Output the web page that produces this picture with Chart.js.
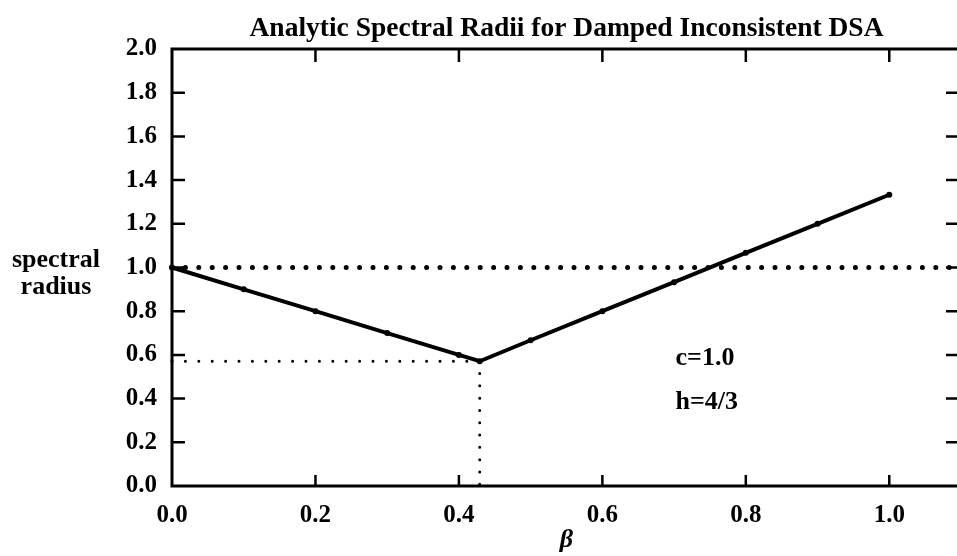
<!DOCTYPE html>
<html><head><meta charset="utf-8">
<script src="https://cdn.jsdelivr.net/npm/chart.js@4.4.1/dist/chart.umd.min.js"></script>
<style>
html,body{margin:0;padding:0;background:#ffffff;overflow:hidden;width:957px;height:556px;}
canvas{display:block;}
</style></head>
<body>
<canvas id="chart" width="965" height="556"></canvas>
<script>
// ---------- data ----------
const betaValues     = [0.0, 0.1, 0.2, 0.3, 0.4, 0.429, 0.5, 0.6, 0.7, 0.8, 0.9, 1.0];
const spectralRadius = [1.0, 0.9, 0.8, 0.7, 0.6, 0.571, 0.667, 0.8, 0.933, 1.067, 1.2, 1.333];
const xTickValues = [0.0, 0.2, 0.4, 0.6, 0.8, 1.0];
const yTickValues = [0.0, 0.2, 0.4, 0.6, 0.8, 1.0, 1.2, 1.4, 1.6, 1.8, 2.0];
const unityLevel = 1.0;
const minBeta = 0.429;
const minRadius = 0.571;
const titleText = 'Analytic Spectral Radii for Damped Inconsistent DSA';
const yAxisLabel = ['spectral', 'radius'];
const xAxisLabel = 'β';
const paramLabels = ['c=1.0', 'h=4/3'];
const xMin = 0.0, xMax = 1.1, yMin = 0.0, yMax = 2.0;

// ---------- styling ----------
const FONT = '"Liberation Serif", "DejaVu Serif", serif';
const INK = '#000000';

const framePlugin = {
  id: 'frame',
  afterDatasetsDraw(chart) {
    const {ctx, chartArea: a, scales: {x, y}} = chart;
    const top = y.getPixelForValue(yMax), bot = y.getPixelForValue(yMin);
    const right = x.getPixelForValue(xMax);
    ctx.save();
    ctx.strokeStyle = INK;
    ctx.lineCap = 'butt';
    ctx.lineWidth = 3;
    ctx.beginPath();
    ctx.moveTo(a.left - 1.5, top); ctx.lineTo(right, top);
    ctx.moveTo(a.left, top - 1.5); ctx.lineTo(a.left, bot + 1.5);
    ctx.moveTo(a.left - 1.5, bot); ctx.lineTo(right, bot);
    ctx.stroke();
    ctx.lineWidth = 2.5;
    ctx.beginPath();
    yTickValues.forEach(v => {
      if (v === yMin || v === yMax) return;
      const py = y.getPixelForValue(v);
      ctx.moveTo(a.left, py); ctx.lineTo(a.left + 13, py);
      ctx.moveTo(right, py); ctx.lineTo(right - 15, py);
    });
    xTickValues.forEach(v => {
      if (v === xMin) return;
      const px = x.getPixelForValue(v);
      ctx.moveTo(px, bot); ctx.lineTo(px, bot - 11);
      ctx.moveTo(px, top); ctx.lineTo(px, top + 13);
    });
    ctx.stroke();
    ctx.restore();
  },
  afterDraw(chart) {
    const {ctx, scales: {x, y}} = chart;
    ctx.save();
    ctx.fillStyle = INK;
    ctx.font = 'bold 26px ' + FONT;
    ctx.textBaseline = 'alphabetic';
    ctx.textAlign = 'center';
    const y1 = y.getPixelForValue(unityLevel);
    ctx.fillText(yAxisLabel[0], 56, y1 - 1);
    ctx.fillText(yAxisLabel[1], 56, y1 + 26);
    ctx.textAlign = 'left';
    ctx.fillText(paramLabels[0], x.getPixelForValue(0.702), y.getPixelForValue(0.554));
    ctx.fillText(paramLabels[1], x.getPixelForValue(0.702), y.getPixelForValue(0.352));
    ctx.restore();
  }
};

const dotted = (w, gap) => ({
  borderColor: INK, borderWidth: w, borderDash: [0, gap], borderCapStyle: 'round',
  pointRadius: 0, showLine: true, fill: false, order: 2, clip: false
});

new Chart(document.getElementById('chart'), {
  type: 'scatter',
  data: {
    datasets: [
      {
        data: betaValues.map((b, i) => ({x: b, y: spectralRadius[i]})),
        showLine: true, borderColor: INK, borderWidth: 4, tension: 0,
        pointRadius: 3, pointBackgroundColor: INK, pointBorderColor: INK, pointBorderWidth: 0,
        order: 0, clip: false
      },
      Object.assign({data: [{x: xMin, y: unityLevel}, {x: xMax, y: unityLevel}]}, dotted(5, 13.4)),
      Object.assign({data: [{x: xMin, y: minRadius}, {x: minBeta, y: minRadius}]}, dotted(3, 13.4)),
      Object.assign({data: [{x: minBeta, y: minRadius}, {x: minBeta, y: yMin}]}, dotted(3, 12.3))
    ]
  },
  options: {
    responsive: false,
    animation: false,
    devicePixelRatio: 1,
    layout: {padding: {left: 0, right: 0, top: 0, bottom: 0}},
    plugins: {
      legend: {display: false},
      tooltip: {enabled: false},
      title: {
        display: true, text: titleText, color: INK, fullSize: false,
        font: {family: FONT, size: 27.5, weight: 'bold', lineHeight: 1.2},
        padding: {top: 12, bottom: 4}
      }
    },
    scales: {
      x: {
        type: 'linear', min: xMin, max: xMax,
        afterBuildTicks: s => { s.ticks = xTickValues.map(v => ({value: v})); },
        afterFit: s => { s.height = 70; },
        grid: {display: false, drawTicks: false}, border: {display: false},
        ticks: {color: INK, padding: 15, maxRotation: 0, autoSkip: false,
                font: {family: FONT, size: 25, weight: 'bold'},
                callback: v => Number(v).toFixed(1)},
        title: {display: true, text: xAxisLabel, color: INK,
                font: {family: FONT, size: 26, weight: 'bold', style: 'italic', lineHeight: 1.2},
                padding: {top: 0, bottom: 0}}
      },
      y: {
        type: 'linear', min: yMin, max: yMax,
        afterBuildTicks: s => { s.ticks = yTickValues.map(v => ({value: v})); },
        afterFit: s => { s.width = 172; },
        grid: {display: false, drawTicks: false}, border: {display: false},
        ticks: {color: INK, padding: 15, autoSkip: false,
                font: {family: FONT, size: 25, weight: 'bold'},
                callback: v => Number(v).toFixed(1)}
      }
    }
  },
  plugins: [framePlugin]
});
</script>
</body></html>
